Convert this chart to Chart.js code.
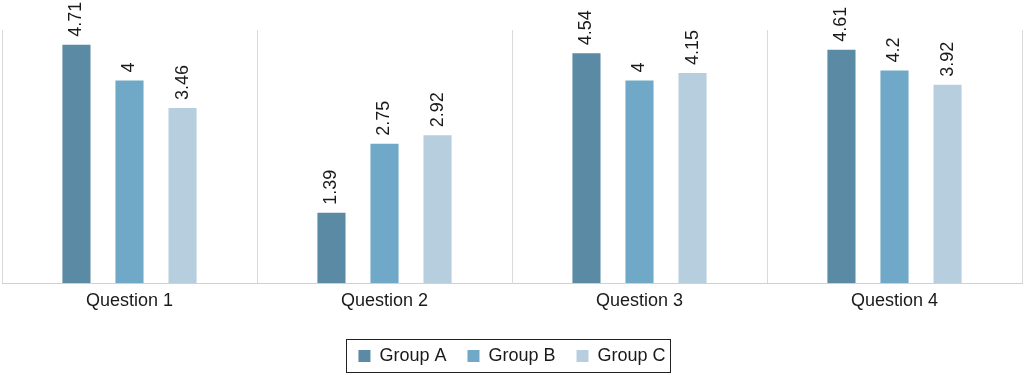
<!DOCTYPE html>
<html>
<head>
<meta charset="utf-8">
<script src="https://cdn.jsdelivr.net/npm/chart.js@4"></script>
<style>
html,body{margin:0;padding:0;background:#fff;}
#wrap{width:1024px;height:375px;position:relative;}
</style>
</head>
<body>
<div id="wrap"><canvas id="c"></canvas></div>
<script>
const categories = ["Question 1", "Question 2", "Question 3", "Question 4"];
const seriesNames = ["Group A", "Group B", "Group C"];
const groupA = [4.71, 1.39, 4.54, 4.61];
const groupB = [4, 2.75, 4, 4.2];
const groupC = [3.46, 2.92, 4.15, 3.92];
const colors = ["#5b8ba4", "#70a9c8", "#b6cedd"];
const yMin = 0, yMax = 5;

const FONT = "'Liberation Sans', Arial, Helvetica, sans-serif";

const valueLabels = {
  id: 'valueLabels',
  afterDatasetsDraw(chart) {
    const ctx = chart.ctx;
    ctx.save();
    ctx.font = "18px " + FONT;
    ctx.fillStyle = "#1a1a1a";
    ctx.textAlign = "left";
    ctx.textBaseline = "middle";
    chart.data.datasets.forEach((ds, i) => {
      const meta = chart.getDatasetMeta(i);
      meta.data.forEach((bar, j) => {
        ctx.save();
        ctx.translate(bar.x, bar.y - 8);
        ctx.rotate(-Math.PI / 2);
        ctx.fillText(String(ds.data[j]), 0, 0);
        ctx.restore();
      });
    });
    ctx.restore();
  }
};

const legendBorder = {
  id: 'legendBorder',
  afterDraw(chart) {
    const lg = chart.legend;
    if (!lg || !lg.legendHitBoxes || !lg.legendHitBoxes.length) return;
    const hb = lg.legendHitBoxes;
    const first = hb[0], last = hb[hb.length - 1];
    const cy = first.top + first.height / 2;
    const ctx = chart.ctx;
    ctx.save();
    ctx.strokeStyle = "#222";
    ctx.lineWidth = 1;
    const l = Math.round(first.left - 12) + 0.5;
    const r = Math.round(last.left + last.width + 4) + 0.5;
    const t = Math.round(cy - 17) + 0.5;
    const b = Math.round(cy + 16) + 0.5;
    ctx.strokeRect(l, t, r - l, b - t);
    ctx.restore();
  }
};

new Chart(document.getElementById('c'), {
  type: 'bar',
  data: {
    labels: categories,
    datasets: [
      { label: seriesNames[0], data: groupA, backgroundColor: colors[0] },
      { label: seriesNames[1], data: groupB, backgroundColor: colors[1] },
      { label: seriesNames[2], data: groupC, backgroundColor: colors[2] }
    ]
  },
  options: {
    responsive: true,
    maintainAspectRatio: false,
    animation: false,
    devicePixelRatio: 1,
    layout: { padding: { top: 30, left: 2, right: 2, bottom: 0 } },
    datasets: { bar: { categoryPercentage: 0.624, barPercentage: 0.53 } },
    scales: {
      x: {
        grid: { display: true, offset: true, color: "#d9d9d9", drawTicks: false },
        border: { display: true, color: "#d0d0d0" },
        ticks: { font: { family: FONT, size: 18 }, color: "#1a1a1a", padding: 7 },
        afterFit: (scale) => { scale.height = 43; }
      },
      y: {
        display: false,
        min: yMin,
        max: yMax
      }
    },
    plugins: {
      legend: {
        position: 'bottom',
        maxHeight: 50,
        labels: {
          font: { family: FONT, size: 18 },
          color: "#1a1a1a",
          boxWidth: 12,
          boxHeight: 12,
          padding: 21
        }
      },
      tooltip: { enabled: false }
    }
  },
  plugins: [valueLabels, legendBorder]
});
</script>
</body>
</html>
